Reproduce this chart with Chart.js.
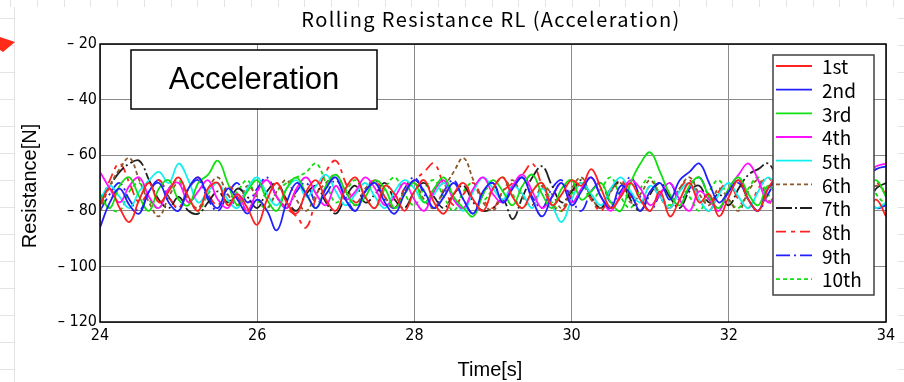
<!DOCTYPE html>
<html><head><meta charset="utf-8">
<script src="https://cdn.jsdelivr.net/npm/chart.js@4/dist/chart.umd.min.js"></script>
<style>html,body{margin:0;padding:0;background:#fff;}canvas{display:block;}</style>
</head><body>
<canvas id="c" width="904" height="382"></canvas>
<script>
const timeStart = 24, timeStep = 0.125, nPoints = 81;
const seriesNames = ['1st','2nd','3rd','4th','5th','6th','7th','8th','9th','10th'];
const xTicks = [24,26,28,30,32,34];
const yTicks = [-20,-40,-60,-80,-100,-120];

const run1 = [-78,-72,-79,-84,-76,-70,-77,-73, -68,-75,-80,-72,-70,-78,-74,-79, -85,-76,-70,-77,-81,-73,-69,-76,
  -80,-72,-68,-75,-79,-71,-74,-80, -73,-69,-77,-81,-74,-70,-76,-80, -72,-68,-75,-79,-73,-70,-78,-74,
  -69,-71,-65,-72,-79,-75,-70,-76, -80,-73,-82,-76,-70,-77,-74,-82, -75,-69,-76,-80,-72,-68,-75,-79,
  -71,-74,-80,-73,-69,-77,-80,-76, -82];
const run2 = [-86,-77,-72,-78,-81,-73,-70,-77, -80,-72,-68,-75,-79,-72,-76,-81, -76,-80,-87,-77,-70,-74,-79,-72,
  -68,-76,-80,-73,-70,-77,-81,-74, -69,-73,-79,-75,-70,-76,-81,-73, -70,-77,-72,-68,-76,-82,-75,-70,
  -78,-73,-68,-75,-79,-71,-74,-80, -73,-70,-76,-69,-66,-63,-70,-77, -73,-69,-76,-80,-72,-70,-77,-73,
  -69,-76,-80,-72,-67,-72,-68,-65, -64];
const run3 = [-74,-79,-71,-68,-75,-80,-72,-69, -76,-78,-70,-67,-62,-70,-78,-73, -69,-76,-80,-72,-68,-74,-79,-71,
  -67,-73,-78,-75,-69,-72,-79,-74, -70,-77,-72,-68,-75,-79,-82,-74, -69,-73,-78,-71,-67,-74,-79,-72,
  -69,-76,-73,-70,-77,-80,-70,-63, -59,-66,-74,-78,-71,-68,-75,-79, -72,-68,-74,-78,-71,-75,-80,-73,
  -69,-76,-79,-72,-70,-77,-73,-69, -75];
const run4 = [-66,-72,-77,-71,-68,-75,-79,-72, -70,-77,-73,-69,-76,-79,-74,-80, -73,-69,-75,-79,-72,-68,-74,-78,
  -71,-76,-73,-68,-72,-78,-75,-70, -76,-80,-73,-69,-76,-79,-72,-68, -74,-77,-71,-67,-73,-79,-75,-70,
  -77,-72,-68,-75,-80,-74,-69,-72, -78,-74,-70,-76,-80,-73,-76,-80, -72,-67,-63,-69,-77,-73,-69,-76,
  -79,-72,-68,-75,-78,-71,-67,-64, -63];
const run5 = [-76,-71,-75,-79,-73,-69,-66,-70, -63,-69,-77,-73,-70,-76,-79,-72, -68,-74,-78,-72,-69,-75,-71,-67,
  -73,-78,-74,-70,-75,-79,-73,-69, -72,-77,-74,-70,-75,-80,-73,-68, -72,-76,-71,-74,-79,-72,-78,-84,
  -76,-70,-74,-78,-72,-68,-73,-77, -71,-75,-79,-73,-70,-76,-80,-74, -70,-75,-79,-73,-68,-72,-77,-71,
  -67,-65,-71,-77,-73,-70,-75,-79, -77];
const run6 = [-80,-71,-65,-61,-69,-77,-82,-75, -70,-76,-79,-72,-68,-74,-78,-71, -75,-79,-73,-69,-76,-80,-74,-70,
  -67,-73,-78,-72,-69,-75,-79,-73, -70,-76,-79,-72,-66,-61,-69,-77, -80,-73,-69,-75,-78,-71,-74,-79,
  -72,-68,-75,-79,-73,-70,-77,-74, -69,-75,-79,-72,-68,-74,-78,-72, -76,-80,-73,-69,-76,-79,-72,-69,
  -75,-79,-73,-70,-76,-80,-74,-71, -73];
const run7 = [-76,-71,-66,-63,-62,-69,-76,-79, -75,-80,-81,-77,-73,-77,-72,-75, -79,-73,-70,-76,-80,-74,-71,-77,
  -81,-75,-71,-77,-74,-70,-76,-79, -73,-70,-75,-79,-74,-71,-77,-80, -79,-76,-83,-75,-68,-64,-71,-77,
  -73,-69,-75,-79,-72,-70,-76,-80, -74,-70,-75,-79,-73,-71,-77,-74, -78,-72,-67,-65,-63,-69,-77,-73,
  -70,-76,-80,-74,-70,-75,-79,-72, -70];
const run8 = [-78,-69,-63,-70,-77,-73,-69,-75, -79,-72,-68,-74,-78,-71,-75,-80, -73,-69,-75,-79,-82,-86,-75,-66,
  -62,-70,-77,-73,-69,-75,-79,-72, -69,-66,-63,-71,-78,-74,-70,-76, -79,-73,-70,-67,-63,-71,-78,-80,
  -74,-70,-76,-80,-73,-69,-75,-78, -71,-75,-79,-72,-69,-76,-80,-73, -70,-76,-79,-72,-68,-74,-78,-71,
  -75,-80,-74,-70,-76,-79,-73,-70, -74];
const run9 = [-80,-74,-70,-76,-80,-73,-69,-75, -79,-72,-69,-76,-80,-74,-70,-77, -72,-68,-75,-79,-73,-70,-77,-74,
  -69,-75,-80,-73,-70,-76,-79,-72, -68,-74,-79,-73,-69,-76,-81,-74, -70,-77,-72,-68,-75,-79,-72,-69,
  -76,-80,-73,-70,-77,-73,-68,-75, -80,-74,-70,-76,-72,-68,-75,-79, -73,-70,-76,-80,-74,-69,-72,-78,
  -74,-70,-76,-80,-73,-69,-75,-79, -78];
const run10 = [-74,-79,-80,-73,-70,-76,-79,-72, -69,-75,-80,-74,-70,-77,-73,-69, -76,-79,-73,-70,-68,-66,-63,-70,
  -77,-73,-69,-75,-79,-72,-68,-74, -78,-72,-69,-75,-80,-73,-70,-76, -72,-68,-74,-79,-73,-70,-77,-80,
  -74,-70,-76,-72,-68,-75,-79,-72, -68,-74,-78,-72,-75,-80,-73,-69, -76,-79,-72,-68,-74,-78,-73,-70,
  -76,-80,-74,-70,-75,-72,-68,-74, -78];

const runs = [run1,run2,run3,run4,run5,run6,run7,run8,run9,run10];
const times = Array.from({length:nPoints},(_,i)=>timeStart + i*timeStep);

// ---- styles ----
const colors = ['#ff2020','#2020ff','#10e010','#ff10ff','#10f0f0','#8b5a2b','#202020','#ff2020','#2020ff','#10e010'];
const dashes = [[],[],[],[],[],[4,3],[16,3,2,3],[10,5,4,5],[14,4,2,4],[4,3]];

const tickFont = "'Liberation Sans Narrow','DejaVu Sans Condensed','Liberation Sans',sans-serif";
const gothic = "'Noto Sans CJK JP','Noto Sans',sans-serif";
const arial = "'Liberation Sans',Arial,sans-serif";

const datasets = runs.map((r,i)=>({
  label: seriesNames[i], data: r, borderColor: colors[i], borderDash: dashes[i],
  borderWidth: 1.8, pointRadius: 0, tension: 0.4, fill: false
}));

const deco = {
  id:'deco',
  beforeDraw(chart){
    const ctx = chart.ctx;
    ctx.save();
    ctx.fillStyle = '#fff'; ctx.fillRect(0,0,904,382);
    ctx.strokeStyle = '#e4e4e4'; ctx.lineWidth = 1;
    for (let x = 10; x < 904; x += 26.75) { ctx.beginPath(); ctx.moveTo(Math.round(x)+0.5,0); ctx.lineTo(Math.round(x)+0.5,7); ctx.stroke(); }
    for (let y = 18; y < 382; y += 27) {
      ctx.beginPath(); ctx.moveTo(0,Math.round(y)+0.5); ctx.lineTo(14,Math.round(y)+0.5); ctx.stroke();
      ctx.beginPath(); ctx.moveTo(898,Math.round(y)+0.5); ctx.lineTo(904,Math.round(y)+0.5); ctx.stroke();
    }
    ctx.beginPath(); ctx.moveTo(14.5,7); ctx.lineTo(14.5,382); ctx.stroke();
    ctx.fillStyle = '#ff2a1a';
    ctx.beginPath(); ctx.moveTo(0,37); ctx.lineTo(15,42); ctx.lineTo(3,52); ctx.lineTo(0,50); ctx.closePath(); ctx.fill();
    ctx.restore();
  },
  afterDatasetsDraw(chart){
    const ctx = chart.ctx, a = chart.chartArea;
    ctx.save();
    ctx.strokeStyle = '#000'; ctx.lineWidth = 1.5;
    ctx.strokeRect(a.left, a.top, a.right-a.left, a.bottom-a.top);
    ctx.fillStyle = '#fff'; ctx.fillRect(131,50,246,59);
    ctx.lineWidth = 1.5; ctx.strokeStyle = '#000'; ctx.strokeRect(131,50,246,59);
    ctx.fillStyle = '#000'; ctx.font = "31px " + arial; ctx.textAlign='center'; ctx.textBaseline='middle';
    ctx.fillText('Acceleration', 254, 80);
    ctx.fillStyle = '#fff'; ctx.fillRect(773,55,101,240);
    ctx.strokeStyle = '#404040'; ctx.lineWidth = 1.5; ctx.strokeRect(773,55,101,240);
    ctx.font = "19px " + gothic; ctx.textAlign='left'; ctx.textBaseline='middle';
    chart.data.datasets.forEach((d,i)=>{
      const y = 66 + i*23.67;
      ctx.strokeStyle = d.borderColor; ctx.lineWidth = 1.8; ctx.setLineDash(d.borderDash);
      ctx.beginPath(); ctx.moveTo(776, y); ctx.lineTo(812, y); ctx.stroke();
      ctx.setLineDash([]);
      ctx.fillStyle = '#000'; ctx.fillText(d.label, 822, y+1);
    });
    ctx.restore();
  },
  afterDraw(chart){
    const ctx = chart.ctx;
    ctx.save();
    ctx.fillStyle = '#000';
    ctx.font = "20px " + gothic; ctx.textAlign='center'; ctx.textBaseline='middle';
    try { ctx.letterSpacing = '1.4px'; } catch(e) {}
    ctx.fillText('Rolling Resistance RL (Acceleration)', 491, 19);
    try { ctx.letterSpacing = '0px'; } catch(e) {}
    ctx.font = "20px " + arial;
    ctx.fillText('Time[s]', 490, 370);
    ctx.translate(30, 186); ctx.rotate(-Math.PI/2);
    ctx.font = "20px " + arial;
    ctx.fillText('Resistance[N]', 0, 0);
    ctx.restore();
  }
};

new Chart(document.getElementById('c'), {
  type: 'line',
  data: { labels: times, datasets },
  options: {
    responsive: false, animation: false, devicePixelRatio: 1,
    layout: { padding: { left: 0, right: 18, top: 44, bottom: 0 } },
    plugins: { legend: { display: false }, title: { display: false }, tooltip: { enabled: false } },
    scales: {
      x: {
        type: 'linear', min: xTicks[0], max: xTicks[xTicks.length-1],
        afterBuildTicks: s => { s.ticks = xTicks.map(v => ({ value: v })); },
        ticks: { color: '#000', font: { family: tickFont, size: 16 }, padding: 4, maxRotation: 0, autoSkip: false },
        grid: { color: '#8a8a8a', lineWidth: 1, drawTicks: false },
        border: { display: false },
        afterFit: s => { s.height = 60; }
      },
      y: {
        type: 'linear', min: -120, max: -20,
        afterBuildTicks: s => { s.ticks = yTicks.map(v => ({ value: v })); },
        ticks: { color: '#000', font: { family: tickFont, size: 16 }, padding: 3,
                 callback: v => '\u2013 ' + Math.abs(v) },
        grid: { color: '#8a8a8a', lineWidth: 1, drawTicks: false },
        border: { display: false },
        afterFit: s => { s.width = 100; }
      }
    }
  },
  plugins: [deco]
});
</script>
</body></html>
